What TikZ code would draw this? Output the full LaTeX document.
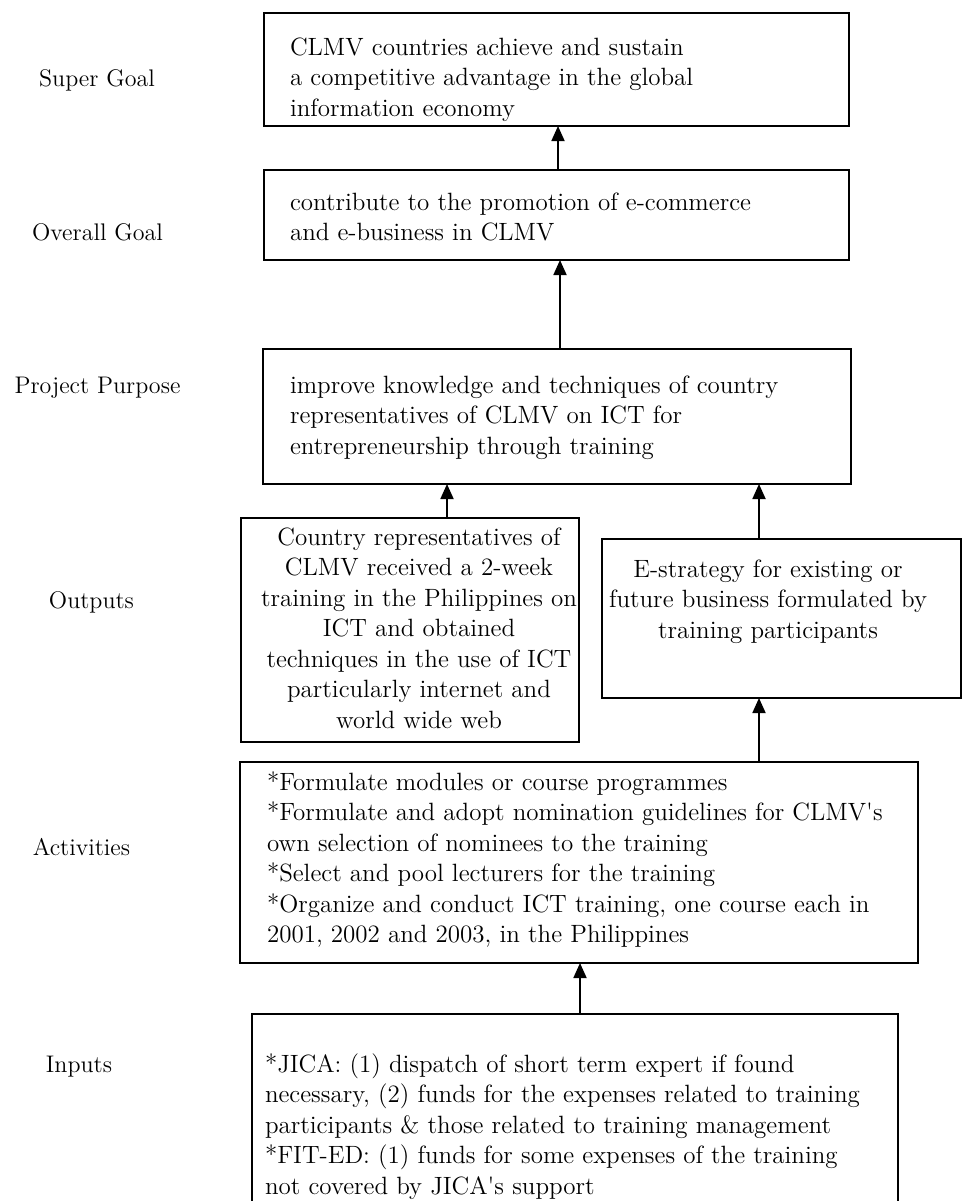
\documentclass[tikz,border=0pt]{standalone}
\usepackage{fontspec}
\usetikzlibrary{arrows.meta}
\begin{document}
\begin{tikzpicture}[x=0.5pt,y=-0.5pt,
  frame/.style={draw, line width=1pt, rectangle, inner sep=0pt, outer sep=0pt},
  txt/.style={font=\fontsize{12.5}{15.25}\selectfont, inner sep=0pt, outer sep=0pt},
  lvl/.style={font=\fontsize{12}{15.25}\selectfont, inner sep=0pt, anchor=base},
  arr/.style={line width=0.9pt, -{Triangle[length=7.5pt,width=6.5pt]}}]
\clip (0,0) rectangle (963,1201);
\fill[white] (0,0) rectangle (963,1201);

% level names on the left
\node[lvl] (l1) at (97,86)    {Super Goal};
\node[lvl] (l2) at (97.5,240) {Overall Goal};
\node[lvl] (l3) at (97.5,393) {Project Purpose};
\node[lvl] (l4) at (91.5,608) {Outputs};
\node[lvl] (l5) at (81.5,855) {Activities};
\node[lvl] (l6) at (79,1072)  {Inputs};

% frames of the logic chain
\node[frame, minimum width=292.5pt, minimum height=56.5pt]  (b1) at (556.5,69.5) {};
\node[frame, minimum width=292.5pt, minimum height=45pt]    (b2) at (556.5,215) {};
\node[frame, minimum width=294pt,   minimum height=67.5pt]  (b3) at (557,416.5) {};
\node[frame, minimum width=169pt,   minimum height=112pt]   (b4) at (410,630) {};
\node[frame, minimum width=179.5pt, minimum height=79.5pt]  (b5) at (781.5,618.5) {};
\node[frame, minimum width=339pt,   minimum height=100.5pt] (b6) at (579,862.5) {};
\node[frame, minimum width=323pt,   minimum height=113pt]   (b7) at (575,1127) {};

% texts inside the frames (base = baseline of the last line)
\node[txt, anchor=base west, align=left] (t1) at (290,116)
  {CLMV countries achieve and sustain\\a competitive advantage in the global\\information economy};
\node[txt, anchor=base west, align=left] (t2) at (290,240.5)
  {contribute to the promotion of e-commerce\\and e-business in CLMV};
\node[txt, anchor=base west, align=left] (t3) at (290,454)
  {improve knowledge and techniques of country\\representatives of CLMV on ICT for\\entrepreneurship through training};
\node[txt, anchor=base, align=center] (t4) at (419,728)
  {Country representatives of\\CLMV received a 2-week\\training in the Philippines on\\ICT and obtained\\techniques in the use of ICT\\particularly internet and\\world wide web};
\node[txt, anchor=base, align=center] (t5) at (768,638)
  {E-strategy for existing or\\future business formulated by\\training participants};
\node[txt, anchor=base west, align=left] (t6) at (267,942.5)
  {*Formulate modules or course programmes\\*Formulate and adopt nomination guidelines for CLMV\textquotesingle s\\own selection of nominees to the training\\*Select and pool lecturers for the training\\*Organize and conduct ICT training, one course each in\\2001, 2002 and 2003, in the Philippines};
\node[txt, anchor=base west, align=left] (t7) at (265,1194)
  {*JICA: (1) dispatch of short term expert if found\\necessary, (2) funds for the expenses related to training\\participants \& those related to training management\\*FIT-ED: (1) funds for some expenses of the training\\not covered by JICA\textquotesingle s support};

% columns of the upward arrows
\coordinate (c1) at (558,0);
\coordinate (c2) at (560,0);
\coordinate (c3) at (447,0);
\coordinate (c4) at (759,0);
\coordinate (c5) at (580,0);

\draw[arr] (b2.north -| c1) -- (b1.south -| c1);
\draw[arr] (b3.north -| c2) -- (b2.south -| c2);
\draw[arr] (b4.north -| c3) -- (b3.south -| c3);
\draw[arr] (b5.north -| c4) -- (b3.south -| c4);
\draw[arr] (b6.north -| c4) -- (b5.south -| c4);
\draw[arr] (b7.north -| c5) -- (b6.south -| c5);
\end{tikzpicture}
\end{document}
